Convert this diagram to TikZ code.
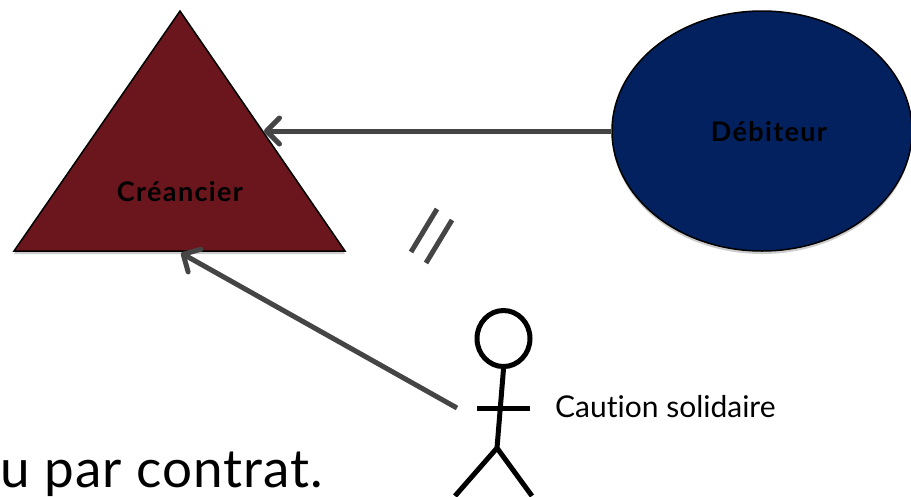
\documentclass[tikz,border=0pt]{standalone}
\usepackage{fontspec}
\setmainfont[Ligatures=NoCommon]{Lato}
\newfontfamily\grandfont[LetterSpace=2,Ligatures=NoCommon]{Lato}
\newfontfamily\grasfont[LetterSpace=5,Ligatures=NoCommon]{Lato}
\usetikzlibrary{arrows.meta,shapes.geometric,shadows}
\definecolor{creancierred}{HTML}{6A161C}
\definecolor{debiteurblue}{HTML}{03215F}
\definecolor{liengray}{HTML}{454545}
\tikzset{
	softshadow/.style={drop shadow={shadow xshift=0pt,shadow yshift=-3pt,opacity=0.2,fill=black}},
	lien/.style={draw=liengray,line width=5pt},
	fleche/.style={lien,-{Straight Barb[length=13pt,width=26pt,line width=5pt,round]}},
	stick/.style={draw=black,line width=5pt},
	etiquette/.style={font=\grasfont\bfseries\fontsize{27}{30}\selectfont},
}
\begin{document}
\begin{tikzpicture}[x=1pt,y=-1pt]
	\useasboundingbox (0,0) rectangle (911,496);
	\clip (0,0) rectangle (911,496);
	\coordinate (sommet) at (180,11);
	\coordinate (basegauche) at (14,251);
	\coordinate (basedroite) at (345,251);
	\filldraw[color=black, fill=creancierred, line width=1.5pt, line join=miter, softshadow] (sommet) -- (basedroite) -- (basegauche) -- cycle;
	\node[etiquette] (creancier) at (180,192) {Créancier};
	\node[ellipse, draw=black, fill=debiteurblue, line width=1.5pt, minimum width=300pt, minimum height=240pt, inner sep=0pt, softshadow] (debiteur) at (762,131) {};
	\node[etiquette] (debiteurlabel) at (769,132) {Débiteur};
	\node[anchor=base west, font=\grandfont\fontsize{53}{60}\selectfont, inner sep=0pt] (contrat) at (0,487) {u par contrat.};
	\node[anchor=base west, font=\fontsize{30}{34}\selectfont, inner sep=0pt] (caution) at (555,417) {Caution solidaire};
	% stick figure
	\node[ellipse, stick, fill=white, minimum width=53pt, minimum height=56pt, inner sep=0pt, softshadow] (tete) at (503.5,338.5) {};
	\coordinate (hanche) at (497,448);
	\coordinate (brasgauche) at (477,408);
	\coordinate (brasdroit) at (530,408);
	\coordinate (piedgauche) at (455,496);
	\coordinate (pieddroit) at (532,496);
	\draw[stick] (tete.south) -- (hanche);
	\draw[stick] (brasgauche) -- (brasdroit);
	\draw[stick] (piedgauche) -- (hanche) -- (pieddroit);
	% arrows and ticks
	\coordinate (arriveehaut) at (264,131);
	\coordinate (arriveebas) at (181,253);
	\coordinate (departbas) at (457,408);
	\coordinate (traitahaut) at (437,209);
	\coordinate (traitabas) at (411,252);
	\coordinate (traitbhaut) at (452,220);
	\coordinate (traitbbas) at (426,263);
	\draw[fleche, softshadow] (debiteur.west) -- (arriveehaut);
	\draw[fleche] (departbas) -- (arriveebas);
	\draw[lien] (traitahaut) -- (traitabas);
	\draw[lien] (traitbhaut) -- (traitbbas);
\end{tikzpicture}
\end{document}
